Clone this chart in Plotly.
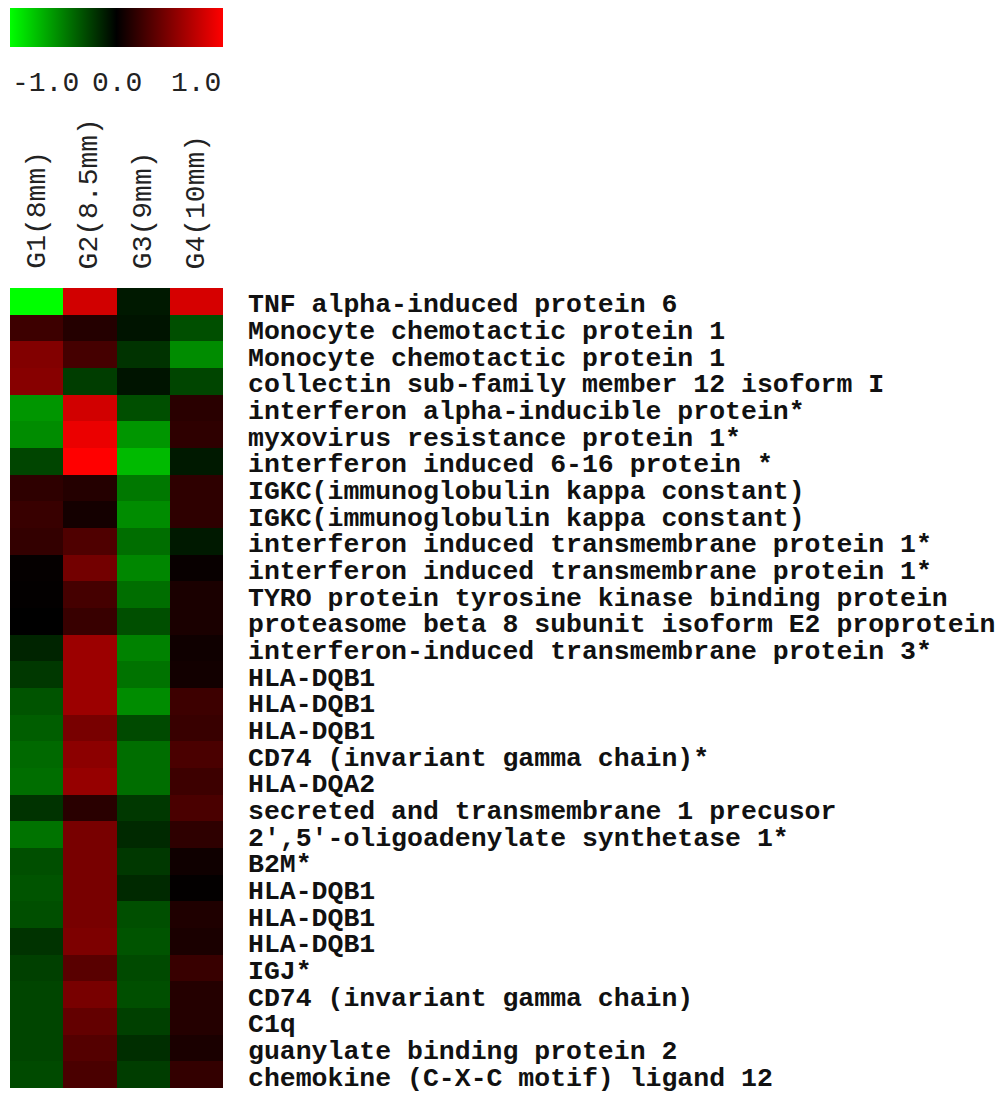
import plotly.graph_objects as go

columns = ["G1(8mm)", "G2(8.5mm)", "G3(9mm)", "G4(10mm)"]

genes = [
    "TNF alpha-induced protein 6",
    "Monocyte chemotactic protein 1",
    "Monocyte chemotactic protein 1",
    "collectin sub-family member 12 isoform I",
    "interferon alpha-inducible protein*",
    "myxovirus resistance protein 1*",
    "interferon induced 6-16 protein *",
    "IGKC(immunoglobulin kappa constant)",
    "IGKC(immunoglobulin kappa constant)",
    "interferon induced transmembrane protein 1*",
    "interferon induced transmembrane protein 1*",
    "TYRO protein tyrosine kinase binding protein",
    "proteasome beta 8 subunit isoform E2 proprotein",
    "interferon-induced transmembrane protein 3*",
    "HLA-DQB1",
    "HLA-DQB1",
    "HLA-DQB1",
    "CD74 (invariant gamma chain)*",
    "HLA-DQA2",
    "secreted and transmembrane 1 precusor",
    "2',5'-oligoadenylate synthetase 1*",
    "B2M*",
    "HLA-DQB1",
    "HLA-DQB1",
    "HLA-DQB1",
    "IGJ*",
    "CD74 (invariant gamma chain)",
    "C1q",
    "guanylate binding protein 2",
    "chemokine (C-X-C motif) ligand 12",
]

g1 = [-1.00, 0.24, 0.51, 0.53, -0.59, -0.55, -0.27, 0.18, 0.22, 0.20,
      0.02, 0.01, 0.00, -0.14, -0.22, -0.33, -0.37, -0.41, -0.43, -0.20,
      -0.45, -0.31, -0.33, -0.31, -0.20, -0.25, -0.27, -0.27, -0.27, -0.29]
g2 = [0.82, 0.14, 0.27, -0.24, 0.82, 0.92, 1.00, 0.14, 0.08, 0.31,
      0.45, 0.27, 0.22, 0.61, 0.61, 0.61, 0.47, 0.55, 0.59, 0.16,
      0.47, 0.47, 0.47, 0.47, 0.49, 0.35, 0.47, 0.39, 0.33, 0.29]
g3 = [-0.10, -0.08, -0.20, -0.08, -0.31, -0.59, -0.73, -0.47, -0.55, -0.43,
      -0.53, -0.43, -0.31, -0.51, -0.45, -0.55, -0.29, -0.43, -0.43, -0.22,
      -0.16, -0.22, -0.16, -0.31, -0.33, -0.29, -0.31, -0.25, -0.18, -0.24]
g4 = [0.84, -0.31, -0.55, -0.27, 0.16, 0.18, -0.10, 0.18, 0.18, -0.10,
      0.03, 0.10, 0.10, 0.06, 0.07, 0.24, 0.22, 0.29, 0.24, 0.29,
      0.18, 0.06, 0.01, 0.12, 0.10, 0.22, 0.14, 0.14, 0.10, 0.20]

row_dot_colors = ["black", "magenta", "magenta", "lime", "lime", "lime", "orange",
                  "lime", "lime", "magenta", "gold", "gold", "gold", "lime", "lime",
                  "magenta", "magenta", "lime", "lime", "magenta", "magenta", "gold",
                  "gold", "magenta", "magenta", "magenta", "blue", "blue", "magenta",
                  "magenta"]

cbar_tickvals = [-1.0, 0.0, 1.0]
cbar_ticklabels = ["-1.0", "0.0", "1.0"]

# page is offset by the 8px body margin
OFF = 8
W, H = 1008 - OFF, 1093 - OFF


def px(p):
    return (p - OFF) / W


def py(p):
    return 1 - (p - OFF) / H


colorscale = [[0.0, "rgb(0,255,0)"], [0.5, "rgb(0,0,0)"], [1.0, "rgb(255,0,0)"]]

n = len(genes)
rows_idx = list(range(n))
z = [[g1[i], g2[i], g3[i], g4[i]] for i in rows_idx]

CB_L, CB_R = 10, 223

fig = go.Figure()
fig.add_trace(go.Heatmap(
    z=z, x=list(range(len(columns))), y=rows_idx,
    colorscale=colorscale, zmin=-1, zmax=1,
    hoverinfo="skip",
    colorbar=dict(
        orientation="h", thickness=39, thicknessmode="pixels",
        len=CB_R - CB_L, lenmode="pixels",
        x=px(CB_L), xanchor="left", y=py(8), yanchor="top",
        xpad=0, ypad=0, outlinewidth=0, showticklabels=False, ticks="",
    ),
))
fig.add_trace(go.Scatter(
    x=[-0.55] * n, y=rows_idx, mode="markers",
    marker=dict(size=3, color=row_dot_colors, symbol="square"),
    cliponaxis=False, showlegend=False, hoverinfo="skip",
))

mono = "Liberation Mono"
annotations = []
for i, g in enumerate(genes):
    annotations.append(dict(
        x=px(247), xref="paper", y=i, yref="y", text=g, showarrow=False,
        xanchor="left", yanchor="middle", yshift=-4, borderpad=0,
        font=dict(family=mono, size=26.5, color="#111", weight="bold"),
    ))
for j, c in enumerate(columns):
    annotations.append(dict(
        x=j, xref="x", y=py(271), yref="paper", text=c, showarrow=False,
        textangle=-90, xanchor="center", yanchor="bottom",
        font=dict(family=mono, size=28, color="#222"),
    ))
# colorbar tick labels: first left-aligned, middle centred, last right-aligned
cb_anchor = {-1.0: "left", 0.0: "center", 1.0: "right"}
for v, t in zip(cbar_tickvals, cbar_ticklabels):
    xp = CB_L + (v + 1) / 2 * (CB_R - CB_L)
    annotations.append(dict(
        x=px(xp), xref="paper", y=py(83), yref="paper", text=t, showarrow=False,
        xanchor=cb_anchor[v], yanchor="middle",
        font=dict(family=mono, size=28, color="#222"),
    ))

fig.update_layout(
    width=W, height=H,
    margin=dict(l=0, r=0, t=0, b=0),
    paper_bgcolor="white", plot_bgcolor="white",
    xaxis=dict(domain=[px(10), px(223)], range=[-0.5, 3.5], visible=False),
    yaxis=dict(domain=[py(1088), py(288)], range=[n - 0.5, -0.5], visible=False),
    annotations=annotations,
    showlegend=False,
)

fig.write_html("out.html")
